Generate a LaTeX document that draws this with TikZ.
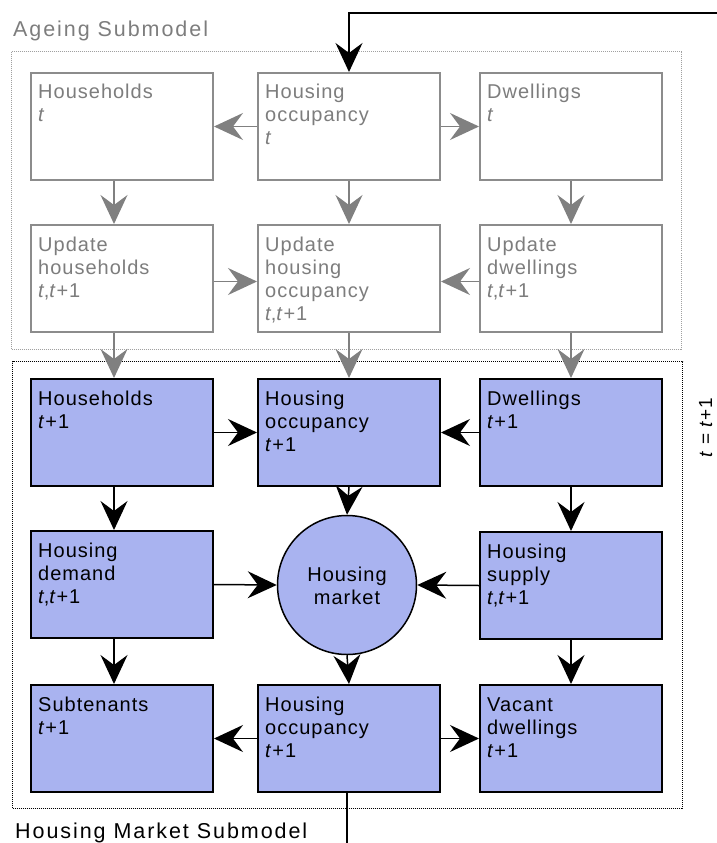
\documentclass[tikz,border=0pt]{standalone}
\usepackage{fontspec}
\setmainfont{Liberation Sans}
\newfontfamily\bfont{Liberation Sans}[LetterSpace=5]
\newfontfamily\tfont{Liberation Sans}[LetterSpace=9]
\usetikzlibrary{arrows.meta,calc}
\definecolor{gbox}{RGB}{140,140,140}
\definecolor{gtxt}{RGB}{125,125,125}
\definecolor{garr}{RGB}{128,128,128}
\definecolor{gdot}{RGB}{160,160,160}
\definecolor{bfill}{RGB}{169,179,240}
\tikzset{
  agebox/.style={draw=gbox, line width=2pt, fill=white, anchor=north west,
    minimum width=182pt, minimum height=107pt, inner sep=0pt},
  mktbox/.style={draw=black, line width=2pt, fill=bfill, anchor=north west,
    minimum width=182pt, minimum height=107pt, inner sep=0pt},
  mktcirc/.style={draw=black, line width=1.5pt, fill=bfill, circle,
    minimum size=139pt, inner sep=0pt},
  boxtext/.style={anchor=base west, inner sep=0pt,
    font=\bfont\fontsize{20}{23}\selectfont},
  titletext/.style={anchor=base west, inner sep=0pt,
    font=\tfont\fontsize{21.5}{24}\selectfont},
  arrG/.style={draw=garr, line width=1.5pt,
    -{Stealth[length=29pt,width=27pt,inset=10pt]}},
  arrB/.style={draw=black, line width=1.5pt,
    -{Stealth[length=29pt,width=27pt,inset=10pt]}},
  lineB/.style={draw=black, line width=1.5pt},
  agedot/.style={draw=gdot, line width=1pt, dash pattern=on 1pt off 1pt,
    anchor=north west, inner sep=0pt},
  mktdot/.style={draw=black, line width=1pt, dash pattern=on 1pt off 1pt,
    anchor=north west, inner sep=0pt}
}
\newcommand{\bt}[1]{\parbox[t]{170pt}{\raggedright #1}}
\begin{document}
\begin{tikzpicture}[x=1pt,y=-1pt]
\useasboundingbox (0,0) rectangle (717,843);
% containers
\node[agedot, minimum width=670pt, minimum height=298pt] (ageing) at (11,51) {};
\node[mktdot, minimum width=670pt, minimum height=447pt] (market) at (12,361) {};
\node[titletext, text=gtxt] (agetitle) at (13,37) {Ageing Submodel};
\node[titletext, text=black] (mkttitle) at (15,838) {Housing Market Submodel};
\node[boxtext, rotate=90, anchor=base, font=\bfont\fontsize{19}{22}\selectfont] (tlabel) at (712,428) {\textit{t} = \textit{t}+1};
% ageing boxes
\node[agebox] (a1) at (30,72) {};
\node[agebox] (a2) at (257,72) {};
\node[agebox] (a3) at (479,72) {};
\node[agebox] (b1) at (30,224) {};
\node[agebox] (b2) at (257,224) {};
\node[agebox] (b3) at (479,224) {};
% market boxes
\node[mktbox] (m1) at (30,378) {};
\node[mktbox] (m2) at (257,378) {};
\node[mktbox] (m3) at (479,378) {};
\node[mktbox] (d4) at (30,530) {};
\node[mktcirc] (mk) at (347,585) {};
\node[mktbox] (s4) at (479,531) {};
\node[mktbox] (sub) at (30,684) {};
\node[mktbox] (o5) at (257,684) {};
\node[mktbox] (vac) at (479,684) {};
% texts
\node[boxtext, text=gtxt] (a1t) at ($(a1.north west)+(8,27)$) {\bt{Households\\\textit{t}}};
\node[boxtext, text=gtxt] (a2t) at ($(a2.north west)+(8,27)$) {\bt{Housing\\occupancy\\\textit{t}}};
\node[boxtext, text=gtxt] (a3t) at ($(a3.north west)+(8,27)$) {\bt{Dwellings\\\textit{t}}};
\node[boxtext, text=gtxt] (b1t) at ($(b1.north west)+(8,27)$) {\bt{Update\\households\\\textit{t},\textit{t}+1}};
\node[boxtext, text=gtxt] (b2t) at ($(b2.north west)+(8,27)$) {\bt{Update\\housing\\occupancy\\\textit{t},\textit{t}+1}};
\node[boxtext, text=gtxt] (b3t) at ($(b3.north west)+(8,27)$) {\bt{Update\\dwellings\\\textit{t},\textit{t}+1}};
\node[boxtext] (m1t) at ($(m1.north west)+(8,27)$) {\bt{Households\\\textit{t}+1}};
\node[boxtext] (m2t) at ($(m2.north west)+(8,27)$) {\bt{Housing\\occupancy\\\textit{t}+1}};
\node[boxtext] (m3t) at ($(m3.north west)+(8,27)$) {\bt{Dwellings\\\textit{t}+1}};
\node[boxtext] (d4t) at ($(d4.north west)+(8,27)$) {\bt{Housing\\demand\\\textit{t},\textit{t}+1}};
\node[boxtext] (s4t) at ($(s4.north west)+(8,27)$) {\bt{Housing\\supply\\\textit{t},\textit{t}+1}};
\node[boxtext, anchor=center, align=center] (mkt) at (347,586) {Housing\\market};
\node[boxtext] (subt) at ($(sub.north west)+(8,27)$) {\bt{Subtenants\\\textit{t}+1}};
\node[boxtext] (o5t) at ($(o5.north west)+(8,27)$) {\bt{Housing\\occupancy\\\textit{t}+1}};
\node[boxtext] (vact) at ($(vac.north west)+(8,27)$) {\bt{Vacant\\dwellings\\\textit{t}+1}};
% ageing arrows
\draw[arrG] (a2.west) -- (a1.east);
\draw[arrG] (a2.east) -- (a3.west);
\draw[arrG] ([xshift=-8pt]a1.south) -- ([xshift=-8pt]b1.north);
\draw[arrG] (a2.south) -- (b2.north);
\draw[arrG] (a3.south) -- (b3.north);
\draw[arrG] ([yshift=-3pt]b1.east) -- ([yshift=-3pt]b2.west);
\draw[arrG] ([yshift=-3pt]b3.west) -- ([yshift=-3pt]b2.east);
\draw[arrG] ([xshift=-8pt]b1.south) -- ([xshift=-8pt]m1.north);
\draw[arrG] (b2.south) -- (m2.north);
\draw[arrG] (b3.south) -- (m3.north);
% market arrows
\draw[arrB] (m1.east) -- (m2.west);
\draw[arrB] (m3.west) -- (m2.east);
\draw[arrB] ([xshift=-8pt]m1.south) -- ([xshift=-8pt]d4.north);
\draw[arrB] (m2.south) -- (mk.north);
\draw[arrB] (m3.south) -- (s4.north);
\draw[arrB] (d4.east) -- (mk.west);
\draw[arrB] (s4.west) -- (mk.east);
\draw[arrB] ([xshift=-8pt]d4.south) -- ([xshift=-8pt]sub.north);
\draw[arrB] (mk.south) -- (o5.north);
\draw[arrB] (s4.south) -- (vac.north);
\draw[arrB] (o5.west) -- (sub.east);
\draw[arrB] (o5.east) -- (vac.west);
% feedback loop
\coordinate (fbtop) at (717,13);
\coordinate (fbbot) at (345,843);
\draw[arrB] (fbtop) -- (fbtop -| a2.north) -- (a2.north);
\draw[lineB] ([xshift=-2pt]o5.south) -- ([xshift=-2pt]o5.south |- fbbot);
\end{tikzpicture}
\end{document}
